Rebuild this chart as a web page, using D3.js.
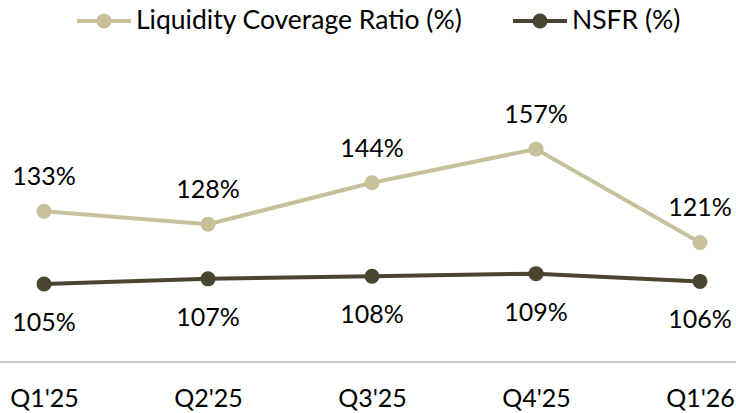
<!DOCTYPE html>
<html>
<head>
<meta charset="utf-8">
<script src="https://cdn.jsdelivr.net/npm/d3@7"></script>
<style>
  body { margin: 0; background: #fff; }
  svg text { font-family: Lato, "Open Sans", sans-serif; fill: #000; }
</style>
</head>
<body>
<svg width="736" height="413"></svg>
<script>
var quarters = ["Q1'25", "Q2'25", "Q3'25", "Q4'25", "Q1'26"];
var lcr = [133, 128, 144, 157, 121];
var nsfr = [105, 107, 108, 109, 106];
var seriesNames = ["Liquidity Coverage Ratio (%)", "NSFR (%)"];

var svg = d3.select("svg"),
    width = +svg.attr("width"),
    height = +svg.attr("height"),
    fontSize = 25;

var lcrColor = "#c8bf9b",
    nsfrColor = "#4b4430";

var x = d3.scalePoint()
    .domain(quarters)
    .range([44, 700]);

var y = d3.scaleLinear()
    .domain([100, 160])
    .range([297, 141.2]);

// baseline across the whole width
svg.append("line")
    .attr("x1", 0)
    .attr("x2", width)
    .attr("y1", 362)
    .attr("y2", 362)
    .attr("stroke", "#c6c6c6")
    .attr("stroke-width", 2);

var xAxis = svg.append("g")
    .attr("transform", "translate(0,362)")
    .call(d3.axisBottom(x).tickSize(0).tickPadding(27));
xAxis.select(".domain").remove();
xAxis.selectAll("text")
    .attr("font-size", fontSize)
    .style("font-family", "Lato, 'Open Sans', sans-serif")
    .attr("fill", "#000");

function drawSeries(values, color, labelOffset) {
  var data = quarters.map(function(q, i) { return {q: q, v: values[i]}; });

  var line = d3.line()
      .x(function(d) { return x(d.q); })
      .y(function(d) { return y(d.v); });

  svg.append("path")
      .datum(data)
      .attr("fill", "none")
      .attr("stroke", color)
      .attr("stroke-width", 4)
      .attr("d", line);

  svg.selectAll(null)
      .data(data)
      .enter().append("circle")
      .attr("cx", function(d) { return x(d.q); })
      .attr("cy", function(d) { return y(d.v); })
      .attr("r", 7.5)
      .attr("fill", color);

  svg.selectAll(null)
      .data(data)
      .enter().append("text")
      .attr("x", function(d) { return x(d.q); })
      .attr("y", function(d) { return y(d.v) + labelOffset; })
      .attr("text-anchor", "middle")
      .attr("font-size", fontSize)
      .text(function(d) { return d.v + "%"; });
}

drawSeries(lcr, lcrColor, -26);
drawSeries(nsfr, nsfrColor, 47);

// legend
var legendItems = [
  {name: seriesNames[0], color: lcrColor, x: 77},
  {name: seriesNames[1], color: nsfrColor, x: 513}
];

var legend = svg.selectAll(".legend")
    .data(legendItems)
    .enter().append("g")
    .attr("class", "legend")
    .attr("transform", function(d) { return "translate(" + d.x + ",21)"; });

legend.append("line")
    .attr("x1", 0)
    .attr("x2", 54)
    .attr("stroke", function(d) { return d.color; })
    .attr("stroke-width", 4);

legend.append("circle")
    .attr("cx", 27)
    .attr("r", 7.5)
    .attr("fill", function(d) { return d.color; });

legend.append("text")
    .attr("x", 59)
    .attr("y", 8)
    .attr("font-size", 26.5)
    .text(function(d) { return d.name; });
</script>
</body>
</html>
